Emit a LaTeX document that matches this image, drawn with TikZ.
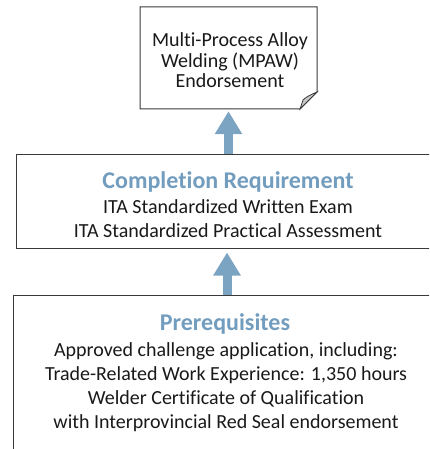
\documentclass[tikz,border=0pt]{standalone}
\usepackage{fontspec}
\setmainfont[Ligatures=NoCommon]{Carlito}
\usetikzlibrary{arrows.meta}
\definecolor{arrowc}{HTML}{7BA4C3}
\definecolor{titlec}{HTML}{729DBE}
\definecolor{linec}{HTML}{3A3A3A}
\definecolor{foldc}{HTML}{C8C8C8}
\tikzset{
  boxline/.style={draw=linec, line width=1pt},
  txt/.style={anchor=base, inner sep=0pt, font=\fontsize{20}{24}\selectfont, text=black!90},
  ttl/.style={anchor=base, inner sep=0pt, font=\fontsize{24}{28}\selectfont\bfseries, text=titlec},
  bigarrow/.style={draw=arrowc, line width=9pt, -{Triangle[width=26pt,length=23pt]}, shorten >=1pt}
}
\begin{document}
\begin{tikzpicture}[x=1pt,y=-1pt]
\useasboundingbox (0,0) rectangle (429,449);
\clip (0,0) rectangle (429,449);
% top document box
\node[inner sep=0pt, minimum width=177pt, minimum height=102pt] (mpaw) at (228.5,58) {};
\draw[boxline, fill=white] (140,7) -- (317,7) -- (317,92) -- (300,109) -- (140,109) -- cycle;
\draw[linec, line width=0.8pt, fill=foldc] (300,109) -- (317,92) .. controls (310,95) and (306,97) .. (303,100) .. controls (302,103) and (301,106) .. (300,109) -- cycle;
\node[txt] (m1) at (230,47) {Multi-Process Alloy};
\node[txt] (m2) at (230,68) {Welding (MPAW)};
\node[txt] (m3) at (230,88) {Endorsement};
% middle box
\node[boxline, inner sep=0pt, minimum width=440pt, minimum height=93pt] (comp) at (236,201.5) {};
\node[ttl] (c0) at (228,188) {Completion Requirement};
\node[txt] (c1) at (228,213) {ITA Standardized Written Exam};
\node[txt] (c2) at (228,237) {ITA Standardized Practical Assessment};
% bottom box
\node[boxline, inner sep=0pt, minimum width=440pt, minimum height=200pt] (prer) at (233,395) {};
\node[ttl] (p0) at (225,330) {Prerequisites};
\node[txt] (p1) at (226,356) {Approved challenge application, including:};
\node[txt] (p2) at (226,380) {Trade-Related Work Experience: 1,350 hours};
\node[txt] (p3) at (226,404) {Welder Certificate of Qualification};
\node[txt] (p4) at (226,428) {with Interprovincial Red Seal endorsement};
% arrows
\draw[bigarrow] (comp.north -| mpaw.south) -- ([yshift=-1pt]mpaw.south);
\draw[bigarrow] ([xshift=-1.5pt]prer.north -| mpaw.south) -- ([xshift=-1.5pt,yshift=-3pt]comp.south -| mpaw.south);
\end{tikzpicture}
\end{document}
